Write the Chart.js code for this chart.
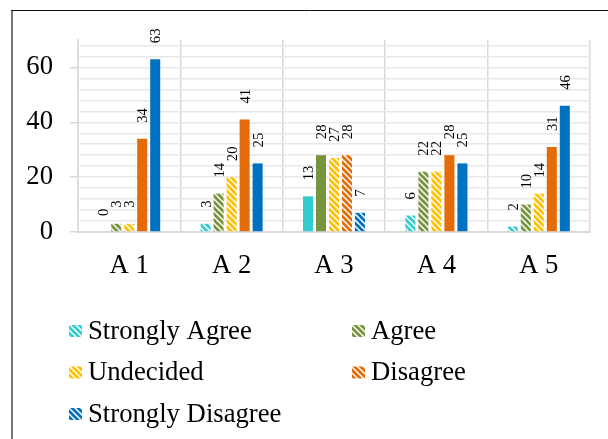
<!DOCTYPE html>
<html>
<head>
<meta charset="utf-8">
<script src="https://cdn.jsdelivr.net/npm/chart.js@4/dist/chart.umd.min.js"></script>
<style>
  html, body { margin: 0; padding: 0; background: #fff; }
  #wrap { position: relative; width: 608px; height: 439px; }
</style>
</head>
<body>
<div id="wrap"><canvas id="c" width="608" height="439"></canvas></div>
<script>
// Survey responses per item
const categories = ['A 1', 'A 2', 'A 3', 'A 4', 'A 5'];
const seriesNames = ['Strongly Agree', 'Agree', 'Undecided', 'Disagree', 'Strongly Disagree'];
const stronglyAgree    = [0, 3, 13, 6, 2];
const agree            = [3, 14, 28, 22, 10];
const undecided        = [3, 20, 27, 22, 14];
const disagree         = [34, 41, 28, 28, 31];
const stronglyDisagree = [63, 25, 7, 25, 46];
const yTickLabels = [0, 20, 40, 60];

// Bars drawn with a solid fill; all others use the diagonal hatch
const solidStronglyAgree    = [false, false, true, false, false];
const solidAgree            = [false, false, true, false, false];
const solidUndecided        = [false, false, false, false, false];
const solidDisagree         = [true, true, false, true, true];
const solidStronglyDisagree = [true, true, false, true, true];

const Y_MAX = 70;
const MINOR_STEP = 4;
const SERIF = "'Liberation Serif', 'Times New Roman', serif";
const colors = ['#33CCCC', '#77933C', '#FFC000', '#E36C09', '#0070C0'];

function hatch(color) {
  const t = document.createElement('canvas');
  t.width = 6; t.height = 6;
  const g = t.getContext('2d');
  g.fillStyle = '#ffffff';
  g.fillRect(0, 0, 6, 6);
  g.strokeStyle = color;
  g.lineWidth = 2.7;
  for (let k = -6; k <= 6; k += 6) {
    g.beginPath();
    g.moveTo(k - 1, -1);
    g.lineTo(k + 7, 7);
    g.stroke();
  }
  return g.createPattern(t, 'repeat');
}

const valueSets = [stronglyAgree, agree, undecided, disagree, stronglyDisagree];
const solidSets = [solidStronglyAgree, solidAgree, solidUndecided, solidDisagree, solidStronglyDisagree];
const patterns = colors.map(hatch);

const datasets = seriesNames.map((name, i) => ({
  label: name,
  data: valueSets[i],
  backgroundColor: (ctx) => solidSets[i][ctx.dataIndex] ? colors[i] : patterns[i],
  borderWidth: 0,
  barPercentage: 0.77,
  categoryPercentage: 0.635
}));

// Rotated value labels above each bar
const barValueLabels = {
  id: 'barValueLabels',
  afterDatasetsDraw(chart) {
    const ctx = chart.ctx;
    const size = 14.7;
    ctx.save();
    ctx.font = size + 'px ' + SERIF;
    ctx.fillStyle = '#000';
    ctx.textAlign = 'left';
    ctx.textBaseline = 'alphabetic';
    chart.data.datasets.forEach((ds, i) => {
      const meta = chart.getDatasetMeta(i);
      meta.data.forEach((bar, j) => {
        ctx.save();
        ctx.translate(bar.x, bar.y - 16);
        ctx.rotate(-Math.PI / 2);
        ctx.fillText(String(ds.data[j]), 0, size * 0.34);
        ctx.restore();
      });
    });
    ctx.restore();
  }
};

// Two-column legend below the axis plus the frame lines
const frameAndLegend = {
  id: 'frameAndLegend',
  afterDraw(chart) {
    const ctx = chart.ctx;
    ctx.save();
    ctx.strokeStyle = '#7a7a7a';
    ctx.lineWidth = 2;
    ctx.beginPath(); ctx.moveTo(12, 10); ctx.lineTo(12, 439); ctx.stroke();
    ctx.strokeStyle = '#111';
    ctx.lineWidth = 1;
    ctx.beginPath(); ctx.moveTo(11, 10.5); ctx.lineTo(608, 10.5); ctx.stroke();

    const colX = [69, 352];
    const rowY = [338.5, 380, 421.5];
    ctx.font = '26.7px ' + SERIF;
    ctx.fillStyle = '#000';
    ctx.textAlign = 'left';
    ctx.textBaseline = 'alphabetic';
    chart.data.datasets.forEach((ds, i) => {
      const x = colX[i % 2];
      const y = rowY[Math.floor(i / 2)];
      ctx.fillStyle = patterns[i];
      ctx.fillRect(x, y - 13.5, 13, 12);
      ctx.fillStyle = '#000';
      ctx.fillText(ds.label, x + 19, y);
    });
    ctx.restore();
  }
};

Chart.defaults.font.family = SERIF;
Chart.defaults.color = '#000';

new Chart(document.getElementById('c'), {
  type: 'bar',
  data: { labels: categories, datasets },
  options: {
    responsive: false,
    animation: false,
    layout: { padding: { left: 12, right: 18, top: 40, bottom: 157 } },
    plugins: { legend: { display: false }, tooltip: { enabled: false } },
    scales: {
      x: {
        grid: { offset: true, color: '#d9d9d9', lineWidth: 1.5, drawTicks: false },
        border: { color: '#d9d9d9', width: 2 },
        ticks: { font: { size: 26.7, family: SERIF }, color: '#000', padding: 18, maxRotation: 0, autoSkip: false },
        afterFit(s) { s.height = 50; s.paddingLeft = 0; s.paddingRight = 0; }
      },
      y: {
        min: 0,
        max: Y_MAX,
        afterBuildTicks(s) {
          const t = [];
          for (let v = 0; v < Y_MAX; v += MINOR_STEP) t.push({ value: v });
          s.ticks = t;
        },
        grid: {
          color: (c) => c.tick && c.tick.value === 0 ? 'rgba(0,0,0,0)' : '#e8e8e8',
          lineWidth: 1.5,
          tickLength: 8,
          tickColor: (c) => yTickLabels.includes(c.tick.value) ? '#d9d9d9' : 'rgba(0,0,0,0)'
        },
        border: { color: '#d9d9d9', width: 1.5 },
        ticks: {
          autoSkip: false,
          padding: 17,
          font: { size: 26.7, family: SERIF },
          color: '#000',
          callback: (v) => yTickLabels.includes(v) ? String(v) : ''
        },
        afterFit(s) { s.width = 66; s.paddingTop = 0; s.paddingBottom = 0; }
      }
    }
  },
  plugins: [barValueLabels, frameAndLegend]
});
</script>
</body>
</html>
